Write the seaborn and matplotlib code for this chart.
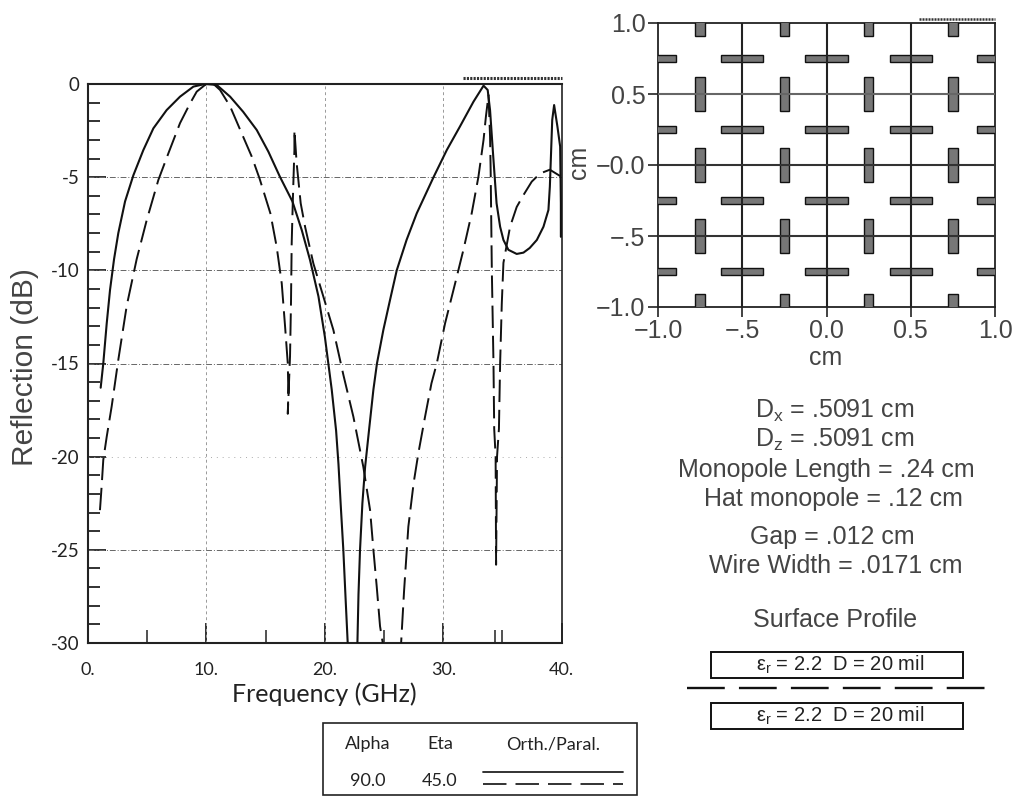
import matplotlib
matplotlib.use("Agg")
import matplotlib.pyplot as plt
from matplotlib.patches import Rectangle
import numpy as np
import pandas as pd
import seaborn as sns

# ---- reflection curves ----
freq_orth = [1.07,1.29,1.58,1.86,2.2,2.56,3.13,3.83,4.67,5.52,6.64,7.77,8.9,9.88,10.87,12.0,13.1,14.25,15.23,16.2,17.26,18.05,18.75,19.46,20.0,
             20.58,20.95,21.15,21.35,21.56,21.75,21.93,22.3,22.75,22.84,22.97,23.17,23.4,23.76,24.1,24.4,24.94,25.5,26.07,26.9,27.76,29.2,30.3,31.4,32.55,33.4,33.75,33.95,
             34.2,34.5,34.8,35.08,35.5,36.2,36.77,37.3,37.9,38.46,38.88,39.0,39.1,39.2,39.36,39.64,39.87,39.93,39.93]
refl_orth = [-16.3,-15,-12.85,-11.05,-9.4,-8.0,-6.3,-4.9,-3.55,-2.38,-1.4,-0.68,-0.14,0,-0.05,-0.68,-1.49,-2.47,-3.63,-4.97,-6.3,-7.84,-9.45,-11.4,-13.56,
             -16.4,-18.6,-20.4,-22.7,-25,-27.6,-30,-33,-30,-27.4,-25,-22.5,-20.55,-18.4,-16.4,-15,-13.2,-11.6,-10,-8.37,-6.94,-4.97,-3.54,-2.29,-0.95,-0.09,-0.32,-1.4,
             -3.72,-6.4,-7.66,-8.37,-8.9,-9.12,-9.05,-8.8,-8.37,-7.66,-6.76,-5.5,-3.72,-1.93,-1.13,-2.29,-3.36,-6.4,-8.2]
freq_para = [1.01,1.15,1.29,1.58,2.0,2.56,3.27,4.11,4.96,5.94,6.8,7.77,8.62,9.18,9.88,10.6,11.15,12.0,12.98,13.83,14.5,15.4,15.93,16.36,16.64,16.87,16.92,16.87,
             17.06,17.14,17.2,17.29,17.34,17.43,17.43,17.62,17.96,18.33,19.03,19.87,20.72,21.56,22.41,23.25,23.82,24.1,24.38,24.66,24.89,25.2,
             26.44,26.69,27.05,27.5,27.9,28.46,29.0,29.45,30.15,31.0,31.7,32.4,32.97,33.4,33.6,33.82,33.95,34.0,34.1,34.24,34.3,34.42,34.46,
             34.54,34.7,34.8,34.94,35.08,35.64,36.2,36.77,37.47,38.18,39.0,39.87]
refl_para = [-22.87,-21.6,-20.18,-18.93,-17.3,-14.8,-11.9,-9.4,-7.3,-5.15,-3.7,-2.1,-1.04,-0.41,-0.05,0,-0.32,-1.2,-2.65,-3.9,-5.1,-6.94,-8.73,-10.7,-13,-15,-16.6,-17.7,
             -14.6,-11.77,-8.55,-6.4,-5.33,-3.54,-2.47,-4.25,-6.4,-7.66,-9.63,-11.4,-13.2,-15.6,-17.86,-20.55,-22.87,-25,-26.97,-29.1,-30,-32.7,
             -30,-27.2,-23.76,-21.4,-19.8,-17.86,-16.07,-15,-12.85,-10.7,-8.9,-6.94,-4.97,-3.0,-1.75,-0.59,-2.82,-4.6,-10,-15,-18.5,-20,-25.8,
             -20,-18.5,-15,-11.8,-9.6,-7.66,-6.6,-5.96,-5.24,-4.8,-4.6,-4.94]

# ---- axis labels ----
freq_ticks = [0, 10, 20, 30, 40]
freq_tick_labels = ["0.", "10.", "20.", "30.", "40."]
freq_minor = [5, 15, 25, 34.4, 35]
refl_ticks = [0, -5, -10, -15, -20, -25, -30]
refl_minor = [-v for v in range(1, 30) if v % 5]
cm_ticks = [-1.0, -0.5, 0.0, 0.5, 1.0]
cm_x_labels = ["\u22121.0", "\u2212.5", "0.0", "0.5", "1.0"]
cm_y_labels = ["\u22121.0", "\u2212.5", "\u22120.0", "0.5", "1.0"]

# ---- periodic surface layout ----
horiz_x = [-1.0, -0.5, 0.0, 0.5, 1.0]
horiz_y = [-0.75, -0.25, 0.25, 0.75]
vert_x = [-0.75, -0.25, 0.25, 0.75]
vert_y = [-1.0, -0.5, 0.0, 0.5, 1.0]
wire_pos = [-0.5, 0.0, 0.5]

# ---- annotations ----
param_lines = ["D$_x$ = .5091 cm", "D$_z$ = .5091 cm", "Monopole Length = .24 cm",
               "Hat monopole = .12 cm", "Gap = .012 cm", "Wire Width = .0171 cm", "Surface Profile"]
layer_label = "$\\epsilon_r$ = 2.2  D = 20 mil"
legend_head = ["Alpha", "Eta", "Orth./Paral."]
legend_vals = ["90.0", "45.0"]

sns.set_theme(style="white")
plt.rcParams["font.family"] = ["Liberation Sans", "DejaVu Sans"]
plt.rcParams["mathtext.default"] = "regular"
W, H = 1018, 796
INK = "#222222"
SOFT = "#444444"
GOTHIC = ["Lato", "DejaVu Sans"]

fig = plt.figure(figsize=(W / 100, H / 100), dpi=100, facecolor="white")


def box(l, t, r, b):
    return [l / W, 1 - b / H, (r - l) / W, (b - t) / H]


# ---------- main plot ----------
ax = fig.add_axes(box(88, 84, 561.7, 643))
grid = dict(color="#666666", lw=0.7, ls=(0, (6, 2, 1, 2)), zorder=1)
for v in freq_ticks[1:-1]:
    ax.axvline(v, **{**grid, "color": "#999999", "ls": (0, (3, 3))})
for v in refl_ticks[1:-1]:
    ax.axhline(v, **(grid if v != -20 else {**grid, "color": "#aaaaaa", "ls": (0, (1, 5))}))

sns.lineplot(x=freq_orth, y=refl_orth, ax=ax, color="#111111", lw=1.5, sort=False, estimator=None, zorder=3)
sns.lineplot(x=freq_para, y=refl_para, ax=ax, color="#111111", lw=1.4, sort=False, estimator=None,
             linestyle=(0, (11.5, 4)), zorder=3)
ax.set_xlim(0, 40)
ax.set_ylim(-30, 0)
ax.set_xticks(freq_ticks)
ax.set_xticklabels(freq_tick_labels, fontfamily=GOTHIC, fontsize=13, color=INK)
ax.set_xticks(freq_minor, minor=True)
ax.set_yticks(refl_ticks)
ax.set_yticklabels([str(v) for v in refl_ticks], fontfamily=GOTHIC, fontsize=13.5, color=INK)
ax.set_yticks(refl_minor, minor=True)
ax.tick_params(axis="x", which="major", direction="in", length=14.5, width=1.3, color=INK, pad=14, bottom=True)
ax.tick_params(axis="x", which="minor", direction="in", length=9.5, width=1.1, color=INK, bottom=True)
ax.tick_params(axis="y", which="major", direction="in", length=13, width=1.3, color=INK, pad=6, left=True)
ax.tick_params(axis="y", which="minor", direction="in", length=8.5, width=1.3, color=INK, left=True)
for name, s in ax.spines.items():
    s.set_color(INK)
    s.set_linewidth(1.5 if name != "right" else 1.2)
ax.set_xlabel("")
ax.set_ylabel("")
ax.plot([31.7, 40], [0.32, 0.32], color="#333333", lw=2.2, ls=(0, (0.7, 0.4)), clip_on=False)

# ---------- surface layout ----------
ax2 = fig.add_axes(box(658, 23, 995, 307))
ax2.set_xlim(-1, 1)
ax2.set_ylim(-1, 1)
BAR_FILL = "#777777"
for x in horiz_x:
    half = 0.105 if abs(x) == 1 else 0.125
    for y in horiz_y:
        ax2.add_patch(Rectangle((x - half, y - 0.025), 2 * half, 0.05, fc=BAR_FILL, ec="#111111", lw=1.0, zorder=3))
for x in vert_x:
    for y in vert_y:
        half = 0.095 if abs(y) == 1 else 0.12
        ax2.add_patch(Rectangle((x - 0.028, y - half), 0.056, 2 * half, fc=BAR_FILL, ec="#111111", lw=1.0, zorder=3))
for p in wire_pos:
    ax2.axvline(p, color="#222222", lw=1.5, zorder=4)
    ax2.axhline(p, color="#333333" if p != 0.5 else "#666666", lw=1.5, zorder=4)
ax2.set_xticks(cm_ticks)
ax2.set_xticklabels(cm_x_labels, fontsize=18, color=SOFT)
ax2.set_yticks(cm_ticks)
ax2.set_yticklabels(cm_y_labels, fontsize=18, color=SOFT)
ax2.tick_params(axis="both", which="major", direction="out", length=7, width=1.2, color=INK, pad=2, left=True, bottom=True)
for s in ax2.spines.values():
    s.set_color(INK)
    s.set_linewidth(1.3)
ax2.plot([0.55, 1.0], [1.03, 1.03], color="#333333", lw=1.8, ls=(0, (0.8, 0.4)), clip_on=False)

# ---------- free annotations, in pixel space ----------
ov = fig.add_axes([0, 0, 1, 1], facecolor="none")
ov.set_xlim(0, W)
ov.set_ylim(H, 0)
ov.axis("off")


def put(x, y, s, size, family=None, **kw):
    kw.setdefault("color", SOFT)
    if family:
        kw["fontfamily"] = family
    ov.text(x, y, s, fontsize=size, ha="center", va="center", **kw)


put(324, 694, "Frequency (GHz)", 18, GOTHIC, color=INK)
put(25, 367, "Reflection (dB)", 21.5, rotation=90)
put(826, 358, "cm", 18)
put(579, 162, "cm", 18, rotation=90)
param_y = [411, 440, 470, 499, 537, 566, 620]
param_x = [835, 835, 826, 833, 832, 836, 835]
for s, x, y in zip(param_lines, param_x, param_y):
    put(x, y, s, 18)

for top, bot, ty in [(652, 678, 665), (703, 729, 716)]:
    ov.add_patch(Rectangle((711, top), 252, bot - top, fc="white", ec="#111111", lw=1.4))
    put(840, ty, layer_label, 14.5, color="#222222")
ov.plot([687, 989], [688, 688], color="#111111", lw=1.7, ls=(0, (16, 6)))

ov.add_patch(Rectangle((323.5, 723), 314, 72, fc="white", ec="#222222", lw=1.2))
for s, x in zip(legend_head, [368, 440, 553]):
    put(x, 744, s, 13, GOTHIC, color=INK)
for s, x in zip(legend_vals, [368, 440]):
    put(x, 781, s, 13, GOTHIC, color=INK)
ov.plot([483, 623], [772, 772], color="#222222", lw=1.3)
ov.plot([483, 623], [784, 784], color="#222222", lw=1.3, ls=(0, (13, 5)))

fig.savefig("out.png", dpi=100, facecolor="white")
